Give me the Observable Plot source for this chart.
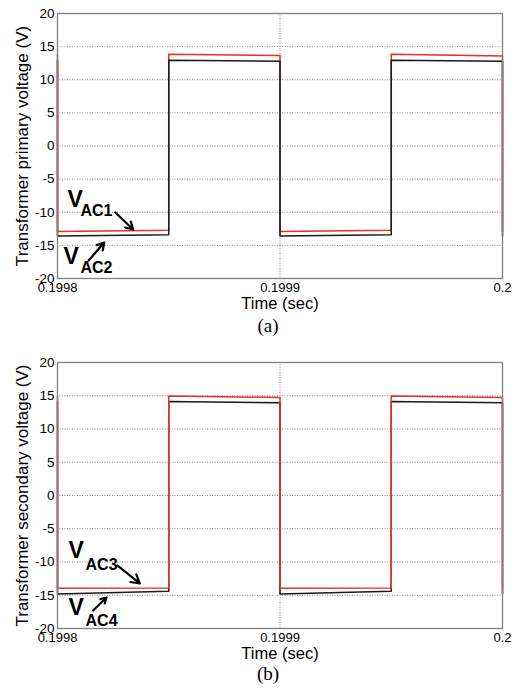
<!DOCTYPE html>
<html><head><meta charset="utf-8">
<script src="https://cdn.jsdelivr.net/npm/d3@7"></script>
<script src="https://cdn.jsdelivr.net/npm/@observablehq/plot@0.6"></script>
<style>
body{margin:0;background:#fff;width:520px;height:690px;position:relative;overflow:hidden;font-family:"Liberation Sans",Arial,sans-serif}
#pa,#pb{position:absolute;left:0}
#pa{top:0}#pb{top:340px}
.cap{position:absolute;width:40px;left:248px;text-align:center;font-family:"Liberation Serif","Times New Roman",serif;font-size:19px;line-height:19px;color:#000}
svg{overflow:visible}
</style></head><body>
<div id="pa"></div><div id="pb"></div>
<div class="cap" style="top:316px">(a)</div>
<div class="cap" style="top:664px">(b)</div>
<script>
// ---- data ----
const time = [0.1998, 0.1998, 0.19985, 0.19985, 0.1999, 0.1999, 0.19995, 0.19995, 0.2, 0.2];
const vac1 = [13.8, -12.9, -12.7, 13.85, 13.65, -12.9, -12.7, 13.85, 13.6, -12.9];
const vac2 = [12.9, -13.6, -13.4, 12.95, 12.8, -13.6, -13.4, 12.95, 12.8, -13.6];
const vac3 = [14.9, -13.95, -13.9, 14.95, 14.75, -13.95, -13.9, 14.95, 14.75, -13.95];
const vac4 = [14.1, -14.8, -14.4, 14.15, 13.95, -14.8, -14.4, 14.15, 13.95, -14.8];
const yTicks = [-20, -15, -10, -5, 0, 5, 10, 15, 20];
const xTicks = [0.1998, 0.1999, 0.2];
const xTickLabels = ["0.1998", "0.1999", "0.2"];
const yLabels = ["Transformer primary voltage (V)", "Transformer secondary voltage (V)"];
const xLabel = "Time (sec)";
const labelsA = [
  {main: "V", sub: "AC1", tm: 0.1998045, vm: -8.15, ts: 0.1998103, vs: -9.81},
  {main: "V", sub: "AC2", tm: 0.1998027, vm: -16.75, ts: 0.1998103, vs: -18.42}
];
const labelsB = [
  {main: "V", sub: "AC3", tm: 0.1998049, vm: -8.27, ts: 0.1998126, vs: -10.38},
  {main: "V", sub: "AC4", tm: 0.1998049, vm: -16.92, ts: 0.1998126, vs: -18.87}
];
const arrowsA = [
  {t1: 0.199826, v1: -10.04, t2: 0.199834, v2: -12.6},
  {t1: 0.199814, v1: -17.28, t2: 0.199821, v2: -14.57}
];
const arrowsB = [
  {t1: 0.199827, v1: -10.53, t2: 0.199837, v2: -13.23},
  {t1: 0.199816, v1: -17.29, t2: 0.199822, v2: -15.34}
];

const RED = "#e8302a", BLACK = "#1a1a1a";

function panel({red, black, redOnTop, ylabel, labels, arrows, height, marginTop}) {
  const redRows = time.map((t, i) => ({t, v: red[i]}));
  const blackRows = time.map((t, i) => ({t, v: black[i]}));
  const redLine = Plot.line(redRows, {x: "t", y: "v", stroke: RED, strokeWidth: 1.5});
  const blackLine = Plot.line(blackRows, {x: "t", y: "v", stroke: BLACK, strokeWidth: 1.5});
  const grid = {stroke: "#888", strokeOpacity: 1, strokeDasharray: "1,1.5", strokeWidth: 1};
  return Plot.plot({
    width: 520, height, marginTop, marginBottom: 37, marginLeft: 57, marginRight: 18,
    style: {fontFamily: "'Liberation Sans', Arial, sans-serif", fontSize: "13px", color: "#000", background: "transparent"},
    x: {domain: [0.1998, 0.2]},
    y: {domain: [-20, 20]},
    marks: [
      Plot.gridY(yTicks, grid),
      Plot.gridX([0.1999], grid),
      ...(redOnTop ? [blackLine, redLine] : [redLine, blackLine]),
      Plot.frame({stroke: "#808080", strokeWidth: 1.3}),
      Plot.axisY(yTicks, {tickSize: 0, tickPadding: 3, tickFormat: d => String(d), label: null, fontSize: 13.5}),
      Plot.axisX(xTicks, {tickSize: 0, tickPadding: 4, tickFormat: (d, i) => xTickLabels[i], label: null, fontSize: 13}),
      Plot.text([ylabel], {x: () => 0.1998, y: () => 0, dx: -35, rotate: -90, fontSize: 17, text: d => d}),
      Plot.text([xLabel], {x: () => 0.1999, y: () => -20, dy: 25, fontSize: 16.5, text: d => d}),
      Plot.text(labels, {x: "tm", y: "vm", text: "main", textAnchor: "start", fontSize: 23, fontWeight: "bold"}),
      Plot.text(labels, {x: "ts", y: "vs", text: "sub", textAnchor: "start", fontSize: 16, fontWeight: "bold"}),
      Plot.arrow(arrows, {x1: "t1", y1: "v1", x2: "t2", y2: "v2", stroke: "#000", strokeWidth: 2.2, headLength: 8, headAngle: 60})
    ]
  });
}

document.getElementById("pa").append(panel({red: vac1, black: vac2, redOnTop: false, ylabel: yLabels[0], labels: labelsA, arrows: arrowsA, height: 315, marginTop: 13}));
document.getElementById("pb").append(panel({red: vac3, black: vac4, redOnTop: true, ylabel: yLabels[1], labels: labelsB, arrows: arrowsB, height: 325, marginTop: 22}));
</script>
</body></html>
